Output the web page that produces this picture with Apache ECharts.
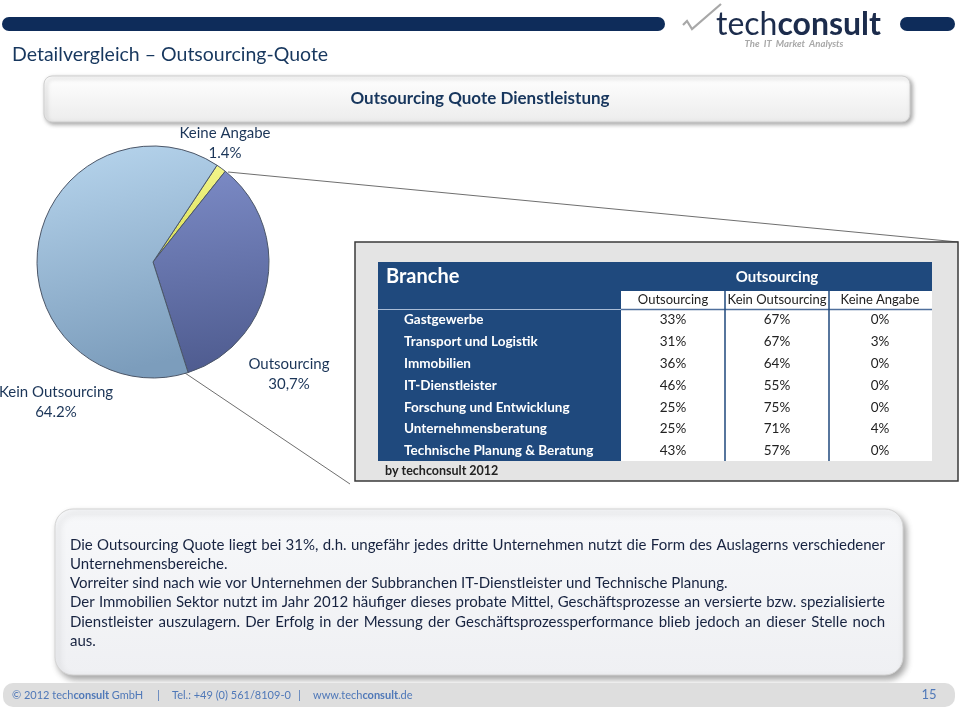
<!DOCTYPE html>
<html><head><meta charset="utf-8">
<script src="https://cdn.jsdelivr.net/npm/echarts@6/dist/echarts.min.js"></script>
<style>html,body{margin:0;padding:0;background:#fff}#c{width:960px;height:708px}</style>
</head><body><div id="c"></div>
<script>
// ---------- data ----------
const pieNames = ['Keine Angabe', 'Outsourcing', 'Kein Outsourcing'];
const pieValues = [1.4, 34.4, 64.2];
const pieLabelTexts = ['1.4%', '30,7%', '64.2%'];

const tableTitle = 'Branche';
const tableGroup = 'Outsourcing';
const tableCols = ['Outsourcing', 'Kein Outsourcing', 'Keine Angabe'];
const branchen = ['Gastgewerbe', 'Transport und Logistik', 'Immobilien', 'IT-Dienstleister',
  'Forschung und Entwicklung', 'Unternehmensberatung', 'Technische Planung & Beratung'];
const outsourcingPct = [33, 31, 36, 46, 25, 25, 43];
const keinOutsourcingPct = [67, 67, 64, 55, 75, 71, 57];
const keineAngabePct = [0, 3, 0, 0, 0, 4, 0];
const tableSource = 'by techconsult 2012';

const slideTitle = 'Detailvergleich \u2013 Outsourcing-Quote';
const chartTitle = 'Outsourcing Quote Dienstleistung';
const noteLines = [
  'Die Outsourcing Quote liegt bei 31%, d.h. ungefähr jedes dritte Unternehmen nutzt die Form des Auslagerns verschiedener',
  'Unternehmensbereiche.',
  'Vorreiter sind nach wie vor Unternehmen der Subbranchen IT-Dienstleister und Technische Planung.',
  'Der Immobilien Sektor nutzt im Jahr 2012 häufiger dieses probate Mittel, Geschäftsprozesse an versierte bzw. spezialisierte',
  'Dienstleister auszulagern. Der Erfolg in der Messung der Geschäftsprozessperformance blieb jedoch an dieser Stelle noch',
  'aus.'
];
const noteJustify = [true, false, false, true, true, false];
const footerParts = ['© 2012 tech{b|consult} GmbH', '|', 'Tel.: +49 (0) 561/8109-0', '|', 'www.tech{b|consult}.de'];
const pageNumber = '15';

// ---------- layout ----------
const FONT = 'Lato, "Open Sans", sans-serif';
const NAVY = '#1f497d';
const TEXT_NAVY = '#1b3558';
const pieLabelPos = [[225, 143], [289, 374], [56, 402]];
const colX = [673, 777, 880];
const rowY0 = 320, rowH = 21.8;
const footerX = [12, 157, 172, 298, 313];

const chart = echarts.init(document.getElementById('c'));
const mctx = document.createElement('canvas').getContext('2d');
function textW(t, font) { mctx.font = font; return mctx.measureText(t).width; }

function txt(x, y, text, o) {
  o = o || {};
  return {
    type: 'text', x: x, y: y, silent: true, z: o.z || 10,
    style: {
      text: text, fill: o.fill || '#222', fontSize: o.size || 13, fontFamily: o.family || FONT,
      fontWeight: o.weight || 'normal', fontStyle: o.style || 'normal',
      align: o.align || 'left', verticalAlign: 'middle',
      textAlign: o.align || 'left', textVerticalAlign: 'middle', rich: o.rich
    }
  };
}

const g = [];
// top bars
g.push({ type: 'rect', shape: { x: 2, y: 17, width: 663, height: 14, r: 7 }, style: { fill: '#0e2c5a' } });
g.push({ type: 'rect', shape: { x: 900, y: 17, width: 55, height: 14, r: 7 }, style: { fill: '#0e2c5a' } });
// logo
g.push({ type: 'polyline', shape: { points: [[683, 25], [687, 21], [692, 29], [721, 4]] }, style: { stroke: '#a8a8a8', lineWidth: 2.2, fill: null } });
g.push(txt(716, 25, '{a|tech}{b|consult}', {
  rich: {
    a: { fontSize: 32, fontFamily: FONT, fill: '#1c2c4c', fontWeight: 'normal' },
    b: { fontSize: 32, fontFamily: FONT, fill: '#1c2c4c', fontWeight: 'bold' }
  }
}));
g.push(txt(794, 44, 'The  IT  Market  Analysts', { size: 9.5, weight: 'bold', style: 'italic', fill: '#a8a8a8', align: 'center' }));
// slide title
g.push(txt(12, 55, slideTitle, { size: 19.5, fill: '#17375e' }));
// chart title box
g.push({
  type: 'rect', shape: { x: 44, y: 76, width: 866, height: 46, r: 8 },
  style: {
    fill: { type: 'linear', x: 0, y: 0, x2: 0, y2: 1, colorStops: [{ offset: 0, color: '#ffffff' }, { offset: 1, color: '#ececec' }] },
    stroke: '#cfcfcf', lineWidth: 1, shadowBlur: 4, shadowColor: 'rgba(0,0,0,0.35)', shadowOffsetX: 2, shadowOffsetY: 2
  }
});
g.push(txt(480, 99, chartTitle, { size: 17, weight: 'bold', fill: '#17365d', align: 'center' }));
// connector lines
g.push({ type: 'line', shape: { x1: 228, y1: 172, x2: 958, y2: 242 }, style: { stroke: '#6f6f6f', lineWidth: 1 }, z: 1 });
g.push({ type: 'line', shape: { x1: 185, y1: 373, x2: 350, y2: 484 }, style: { stroke: '#6f6f6f', lineWidth: 1 }, z: 1 });

// table box
g.push({ type: 'rect', shape: { x: 355, y: 242, width: 603, height: 239 }, style: { fill: '#e4e4e4', stroke: '#3a3a3a', lineWidth: 1.5 }, z: 2 });
g.push({ type: 'rect', shape: { x: 378, y: 262, width: 554, height: 199 }, style: { fill: NAVY }, z: 3 });
g.push({ type: 'rect', shape: { x: 621, y: 291, width: 311, height: 170 }, style: { fill: '#ffffff' }, z: 4 });
g.push({ type: 'line', shape: { x1: 378, y1: 309.5, x2: 621, y2: 309.5 }, style: { stroke: '#a9bcd6', lineWidth: 1 }, z: 5 });
g.push({ type: 'line', shape: { x1: 621, y1: 309.5, x2: 932, y2: 309.5 }, style: { stroke: '#4f6f9c', lineWidth: 1.5 }, z: 5 });
[725, 829].forEach(function (x) {
  g.push({ type: 'line', shape: { x1: x, y1: 291, x2: x, y2: 461 }, style: { stroke: NAVY, lineWidth: 1.5 }, z: 5 });
});
g.push(txt(386, 277, tableTitle, { size: 20, weight: 'bold', fill: '#ffffff' }));
g.push(txt(777, 277, tableGroup, { size: 15, weight: 'bold', fill: '#ffffff', align: 'center' }));
tableCols.forEach(function (c, i) { g.push(txt(colX[i], 300, c, { size: 13, align: 'center' })); });
const tableVals = [outsourcingPct, keinOutsourcingPct, keineAngabePct];
branchen.forEach(function (b, r) {
  const y = rowY0 + r * rowH;
  g.push(txt(404, y, b, { size: 13.5, weight: 'bold', fill: '#ffffff' }));
  tableVals.forEach(function (arr, c) { g.push(txt(colX[c], y, arr[r] + '%', { size: 13.5, align: 'center' })); });
});
g.push(txt(385, 471, tableSource, { size: 12.5, weight: 'bold', fill: '#222' }));

// note box
g.push({
  type: 'rect', shape: { x: 55, y: 509, width: 848, height: 166, r: 18 },
  style: {
    fill: { type: 'linear', x: 0, y: 0, x2: 0, y2: 1, colorStops: [{ offset: 0, color: '#f7f8fa' }, { offset: 1, color: '#eff0f3' }] },
    stroke: '#d4d4d4', lineWidth: 1, shadowBlur: 6, shadowColor: 'rgba(0,0,0,0.35)', shadowOffsetX: 3, shadowOffsetY: 4
  }
});
const noteFont = '15px Lato';
const noteX = 70, noteW = 815;
noteLines.forEach(function (line, i) {
  const y = 545 + i * 19.2;
  if (noteJustify[i]) {
    const words = line.split(' ');
    const sum = words.reduce(function (s, w) { return s + textW(w, noteFont); }, 0);
    const gap = (noteW - sum) / (words.length - 1);
    let x = noteX;
    words.forEach(function (w) {
      g.push(txt(x, y, w, { size: 15, fill: '#172340' }));
      x += textW(w, noteFont) + gap;
    });
  } else {
    g.push(txt(noteX, y, line, { size: 15, fill: '#172340' }));
  }
});

// footer
g.push({ type: 'rect', shape: { x: 3, y: 683, width: 952, height: 24, r: 10 }, style: { fill: '#dedede' } });
footerParts.forEach(function (p, i) {
  g.push(txt(footerX[i], 695, p, {
    size: 11, fill: '#4f78b8',
    rich: { b: { fontSize: 11, fontFamily: FONT, fontWeight: 'bold', fill: '#4f78b8' } }
  }));
});
g.push(txt(929, 695, pageNumber, { size: 13, fill: '#4f78b8', align: 'center' }));

const pieColors = [
  { type: 'linear', x: 0, y: 0, x2: 0, y2: 1, colorStops: [{ offset: 0, color: '#f3f68a' }, { offset: 1, color: '#d8dc52' }] },
  { type: 'linear', x: 0, y: 0, x2: 0.2, y2: 1, colorStops: [{ offset: 0, color: '#7c8bc6' }, { offset: 1, color: '#4f5c90' }] },
  { type: 'linear', x: 0, y: 0, x2: 0.3, y2: 1, colorStops: [{ offset: 0, color: '#b8d6ee' }, { offset: 1, color: '#7c9dbc' }] }
];

chart.setOption({
  animation: false,
  backgroundColor: '#ffffff',
  graphic: { elements: g },
  series: [{
    type: 'pie', center: [153, 262], radius: 116, startAngle: 56.5, clockwise: true,
    z: 6, avoidLabelOverlap: false,
    data: pieNames.map(function (n, i) {
      return { name: n, value: pieValues[i], itemStyle: { color: pieColors[i] } };
    }),
    itemStyle: { borderColor: '#4b5668', borderWidth: 1 },
    label: {
      show: true, position: 'inside', color: TEXT_NAVY, fontSize: 15, fontFamily: FONT, lineHeight: 20, align: 'center',
      formatter: function (p) { return p.name + '\n' + pieLabelTexts[p.dataIndex]; }
    },
    labelLine: { show: false },
    labelLayout: function (p) {
      return { x: pieLabelPos[p.dataIndex][0], y: pieLabelPos[p.dataIndex][1], align: 'center', verticalAlign: 'middle' };
    },
    emphasis: { disabled: true }
  }]
});
</script>
</body></html>
